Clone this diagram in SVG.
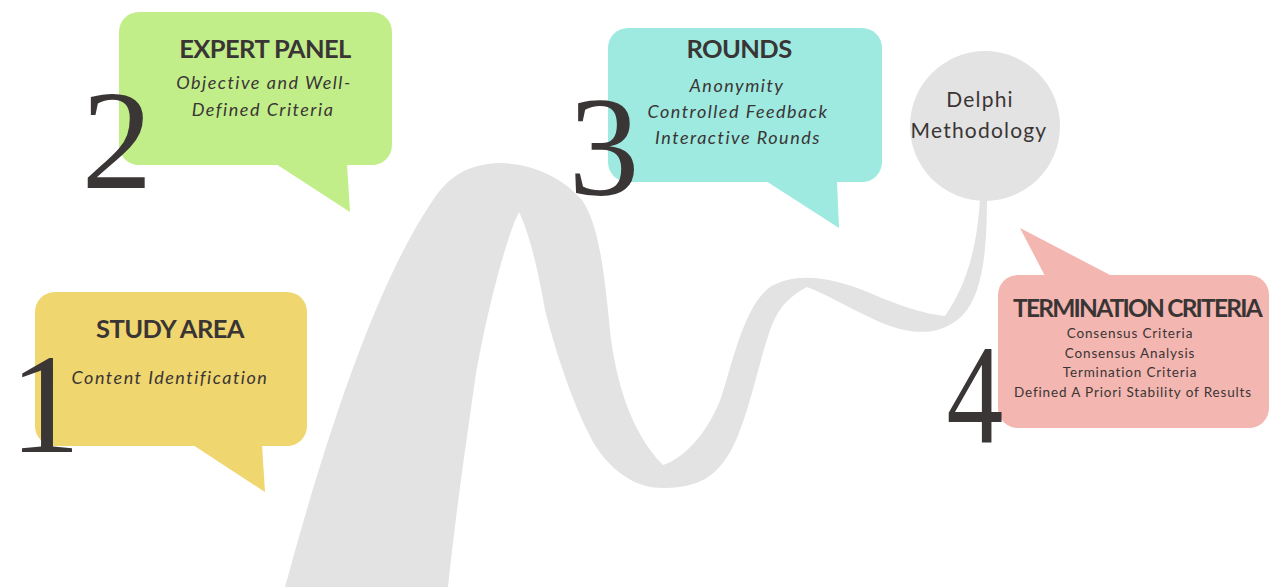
<svg xmlns="http://www.w3.org/2000/svg" width="1269" height="587" viewBox="0 0 1269 587">
  <style>
    .title { font-family: Lato, "Open Sans", sans-serif; font-weight: 700; font-size: 25.5px; fill: #3a3535; text-anchor: middle; letter-spacing: -0.6px; }
    .sub { font-family: Lato, "Open Sans", sans-serif; font-style: italic; font-size: 18px; fill: #3a3535; text-anchor: middle; letter-spacing: 1.5px; }
    .item { font-family: Lato, "Open Sans", sans-serif; font-size: 13.5px; fill: #3a3535; text-anchor: middle; letter-spacing: 0.85px; }
    .digit { font-family: "Liberation Serif", "DejaVu Serif", serif; font-size: 142px; fill: #3b3636; text-anchor: middle; }
    .hub { font-family: Lato, "Open Sans", sans-serif; font-size: 21px; fill: #3a3535; text-anchor: middle; letter-spacing: 1.2px; }
    .ribbon { fill: #e3e3e3; }
  </style>

  <rect width="1269" height="587" fill="#ffffff"/>

  <!-- folded ribbon path running from the bottom up to the hub -->
  <g id="connectors">
    <path class="ribbon" d="M 285 587
      C 325 440, 375 285, 433 200
      C 448 178, 465 165, 498 163
      C 535 163, 565 180, 582 200
      C 597 222, 603 260, 609 320
      C 613 370, 628 430, 663 465
      C 685 458, 710 430, 722 395
      C 733 360, 745 305, 770 287
      C 795 272, 830 276, 870 293
      C 900 306, 925 314, 945 316
      C 963 290, 977 255, 980 198
      L 987 198
      C 987 255, 982 295, 962 316
      C 945 332, 925 335, 900 329
      C 870 321, 840 300, 807 287
      C 792 295, 780 305, 772 325
      C 762 350, 752 400, 740 430
      C 730 458, 715 478, 693 484
      C 680 488, 665 489, 650 487
      C 625 482, 600 460, 587 430
      C 572 400, 555 350, 545 310
      C 538 270, 530 235, 519 212
      C 505 240, 485 320, 475 380
      C 465 450, 455 520, 448 587 Z"/>
  </g>

  <g id="node-delphi">
    <circle cx="985" cy="126" r="75" fill="#e3e3e3"/>
    <text class="hub" x="980" y="107">Delphi</text>
    <text class="hub" x="979" y="138">Methodology</text>
  </g>

  <g id="node-study-area">
    <rect x="35" y="292" width="272" height="154" rx="20" fill="#efd66f"/>
    <polygon points="193,445 262,445 265,492" fill="#efd66f"/>
    <text class="title" x="170" y="338">STUDY AREA</text>
    <text class="sub" x="170" y="384">Content Identification</text>
    <text class="digit" x="45" y="452">1</text>
  </g>

  <g id="node-expert-panel">
    <rect x="119" y="12" width="273" height="153" rx="20" fill="#c2ee8a"/>
    <polygon points="276,164 347,164 350,212" fill="#c2ee8a"/>
    <text class="title" x="265" y="58">EXPERT PANEL</text>
    <text class="sub" x="264" y="89">Objective and Well-</text>
    <text class="sub" x="263" y="116">Defined Criteria</text>
    <text class="digit" x="117" y="188">2</text>
  </g>

  <g id="node-rounds">
    <rect x="608" y="28" width="274" height="154" rx="20" fill="#9eeae0"/>
    <polygon points="766,181 837,181 839,228" fill="#9eeae0"/>
    <text class="title" x="739" y="58">ROUNDS</text>
    <text class="sub" x="737" y="92">Anonymity</text>
    <text class="sub" x="738" y="118">Controlled Feedback</text>
    <text class="sub" x="738" y="144">Interactive Rounds</text>
    <text class="digit" x="604" y="195">3</text>
  </g>

  <g id="node-termination">
    <rect x="998" y="275" width="271" height="153" rx="20" fill="#f3b6b0"/>
    <polygon points="1020,228 1045,276 1112,276" fill="#f3b6b0"/>
    <text class="title" x="1137" y="317" style="letter-spacing:-1.8px; font-size:24.5px">TERMINATION CRITERIA</text>
    <text class="item" x="1130" y="338">Consensus Criteria</text>
    <text class="item" x="1130" y="358">Consensus Analysis</text>
    <text class="item" x="1130" y="377">Termination Criteria</text>
    <text class="item" x="1133" y="397">Defined A Priori Stability of Results</text>
    <text class="digit" transform="translate(975 442) scale(0.8 1)" x="0" y="0">4</text>
  </g>
</svg>
